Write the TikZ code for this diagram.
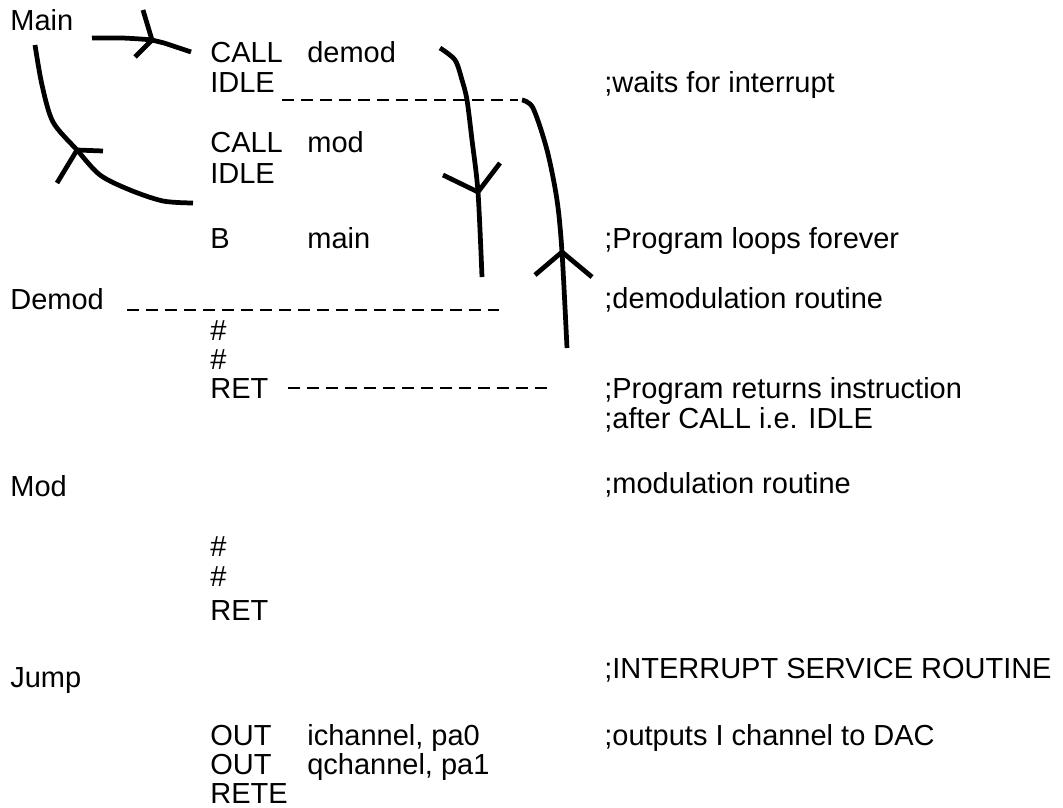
\documentclass[tikz,border=0pt]{standalone}
\usepackage{fontspec}
\setmainfont{Liberation Sans}
\usepackage{tikz}
\usetikzlibrary{arrows.meta}

\begin{document}
\begin{tikzpicture}[x=0.02cm, y=-0.02cm,
  every node/.style={font=\fontsize{16.5pt}{20pt}\selectfont},
  txt/.style={anchor=base west, inner sep=0pt},
  hand/.style={line width=2.7pt, line join=round},
  lead/.style={line width=1.4pt, dash pattern=on 6.8pt off 4pt}]

  \useasboundingbox (0,0) rectangle (1063,808);

  % Labels
  \node[txt] (main)  at (10,31)  {Main};
  \node[txt] (demod) at (10,309) {Demod};
  \node[txt] (mod)   at (10,496) {Mod};
  \node[txt] (jump)  at (10,687) {Jump};

  % Main
  \node[txt] (calla) at (210,62)  {CALL};
  \node[txt] (opa)   at (307,62)  {demod};
  \node[txt] (idlea) at (210,92)  {IDLE};
  \node[txt] (callb) at (210,153) {CALL};
  \node[txt] (opb)   at (307,153) {mod};
  \node[txt] (idleb) at (210,183) {IDLE};
  \node[txt] (br)    at (210,248) {B};
  \node[txt] (opc)   at (307,248) {main};

  % Demod
  \node[txt] (hda) at (210,340) {\#};
  \node[txt] (hdb) at (210,369) {\#};
  \node[txt] (reta) at (210,398) {RET};

  % Mod
  \node[txt] (hma) at (210,556) {\#};
  \node[txt] (hmb) at (210,586) {\#};
  \node[txt] (retb) at (210,620) {RET};

  % Jump
  \node[txt] (outa) at (210,745) {OUT};
  \node[txt] (opd)  at (307,745) {ichannel, pa0};
  \node[txt] (outb) at (210,774) {OUT};
  \node[txt] (ope)  at (307,774) {qchannel, pa1};
  \node[txt] (rete) at (210,803) {RETE};

  % Comments
  \node[txt] (ca) at (604,92)  {;waits for interrupt};
  \node[txt] (cb) at (604,248) {;Program loops forever};
  \node[txt] (cc) at (604,308) {;demodulation routine};
  \node[txt] (cd) at (604,398) {;Program returns instruction};
  \node[txt] (ce) at (604,428) {;after CALL i.e. IDLE};
  \node[txt] (cf) at (604,493) {;modulation routine};
  \node[txt] (cg) at (604,678) {;INTERRUPT SERVICE ROUTINE};
  \node[txt] (ch) at (604,745) {;outputs I channel to DAC};

  % Main -> CALL demod
  \coordinate (ta) at (152,40);
  \draw[hand] plot[smooth] coordinates {(92,38) (122,38) (ta) (164,43) (191,52)};
  \draw[hand] (143,10) -- (ta) -- (135,57);

  % IDLE -> Main
  \coordinate (tb) at (77,150);
  \draw[hand] plot[smooth] coordinates {(193,203) (163,201) (130,190) (100,175) (tb) (53,122) (42,85) (35,45)};
  \draw[hand] (103,151) -- (tb) -- (57,183);

  % CALL demod -> Demod
  \coordinate (tc) at (478,192);
  \draw[hand] plot[smooth] coordinates {(440,48) (455,60) (462,80) (467,100) (472,140) (tc) (482,277)};
  \draw[hand] (443,175) -- (tc) -- (500,163);
  \draw[lead] (127,310) -- (502,310);

  % RET -> IDLE
  \coordinate (td) at (562,252);
  \draw[lead] (288,388) -- (548,388);
  \draw[lead] (282,100) -- (518,100);
  \draw[hand] plot[smooth] coordinates {(522,100) (533,108) (547,150) (557,200) (td) (567,348)};
  \draw[hand] (535,275) -- (td) -- (592,277);

\end{tikzpicture}
\end{document}
